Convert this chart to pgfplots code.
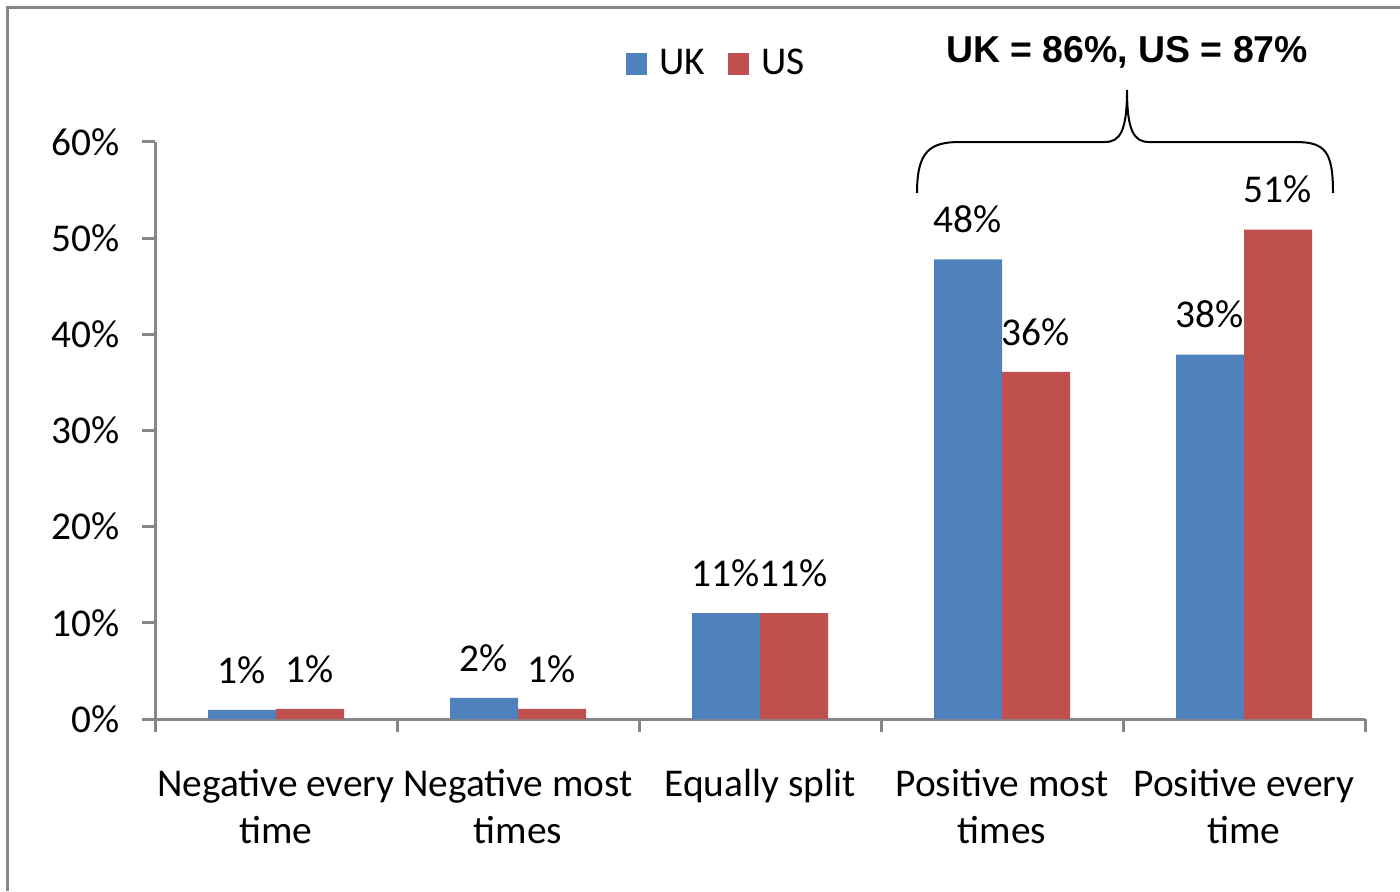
\documentclass[border=0pt]{standalone}
\usepackage{fontspec}
\setmainfont{Carlito}
\newfontfamily\arialfont{Liberation Sans}
\usepackage{pgfplots}
\pgfplotsset{compat=1.18}
\definecolor{ukblue}{HTML}{4F81BD}
\definecolor{usred}{HTML}{C0504D}
\definecolor{axgray}{HTML}{868686}
\begin{document}
\begin{tikzpicture}[x=1cm,y=1cm]
\useasboundingbox (0,0) rectangle (14,8.91);
\draw[axgray, line width=0.03cm] (0.07,0) -- (0.07,8.84) -- (14.1,8.84);
\begin{axis}[
  at={(1.55cm,1.72cm)}, anchor=south west,
  scale only axis, width=12.1cm, height=5.77cm,
  ybar=0pt, bar width=0.68cm,
  xmin=-0.5, xmax=4.5, ymin=0, ymax=60,
  axis lines=left, axis line style={axgray, line width=0.03cm, -},
  every outer x axis line/.append style={-}, every outer y axis line/.append style={-},
  tick align=outside, major tick length=0.13cm,
  tick style={axgray, line width=0.03cm},
  ytick={0,10,...,60},
  yticklabel={\pgfmathprintnumber[assume math mode=true]{\tick}\%},
  yticklabel style={font=\fontsize{11.2}{13}\selectfont, xshift=-0.1cm},
  xtick={-0.5,0.5,...,4.5}, xticklabels={},
  extra x ticks={0,1,2,3,4},
  extra x tick labels={Negative every\\time, Negative most\\times, Equally split, Positive most\\times, Positive every\\time},
  extra x tick style={major tick length=0pt, tick label style={align=center, font=\fontsize{11.2}{13.4}\selectfont, anchor=north, yshift=-0.38cm}},
  nodes near coords={\pgfmathprintnumber[fixed,precision=0,assume math mode=true]{\pgfplotspointmeta}\%},
  every node near coord/.append style={font=\fontsize{11.2}{13}\selectfont, black, yshift=4pt},
  legend style={at={(rel axis cs:0.466,1.135)}, anchor=center, draw=none, fill=none,
    font=\fontsize{11.2}{13}\selectfont, legend columns=2,
    /tikz/every odd column/.append style={column sep=0.05cm},
    /tikz/every even column/.append style={column sep=0.16cm}},
  legend image code/.code={\fill[#1] (0cm,-0.11cm) rectangle (0.21cm,0.11cm);},
  clip=false,
]
\addplot[fill=ukblue, draw=none] coordinates {(0,0.95) (1,2.2) (2,11.0) (3,47.8) (4,37.9)};
\addplot[fill=usred, draw=none] coordinates {(0,1.05) (1,1.05) (2,11.0) (3,36.1) (4,50.9)};
\legend{UK, US}
\end{axis}
\draw[black, line width=0.02cm] (9.17,6.98) .. controls (9.17,7.4) and (9.3,7.49) .. (9.6,7.49) -- (11.05,7.49) .. controls (11.2,7.49) and (11.27,7.6) .. (11.27,8.01) .. controls (11.27,7.6) and (11.34,7.49) .. (11.49,7.49) -- (12.95,7.49) .. controls (13.25,7.49) and (13.33,7.4) .. (13.33,6.98);
\node[font=\arialfont\bfseries\fontsize{10.65}{13}\selectfont] at (11.27,8.39) {UK = 86\%, US = 87\%};
\end{tikzpicture}
\end{document}
